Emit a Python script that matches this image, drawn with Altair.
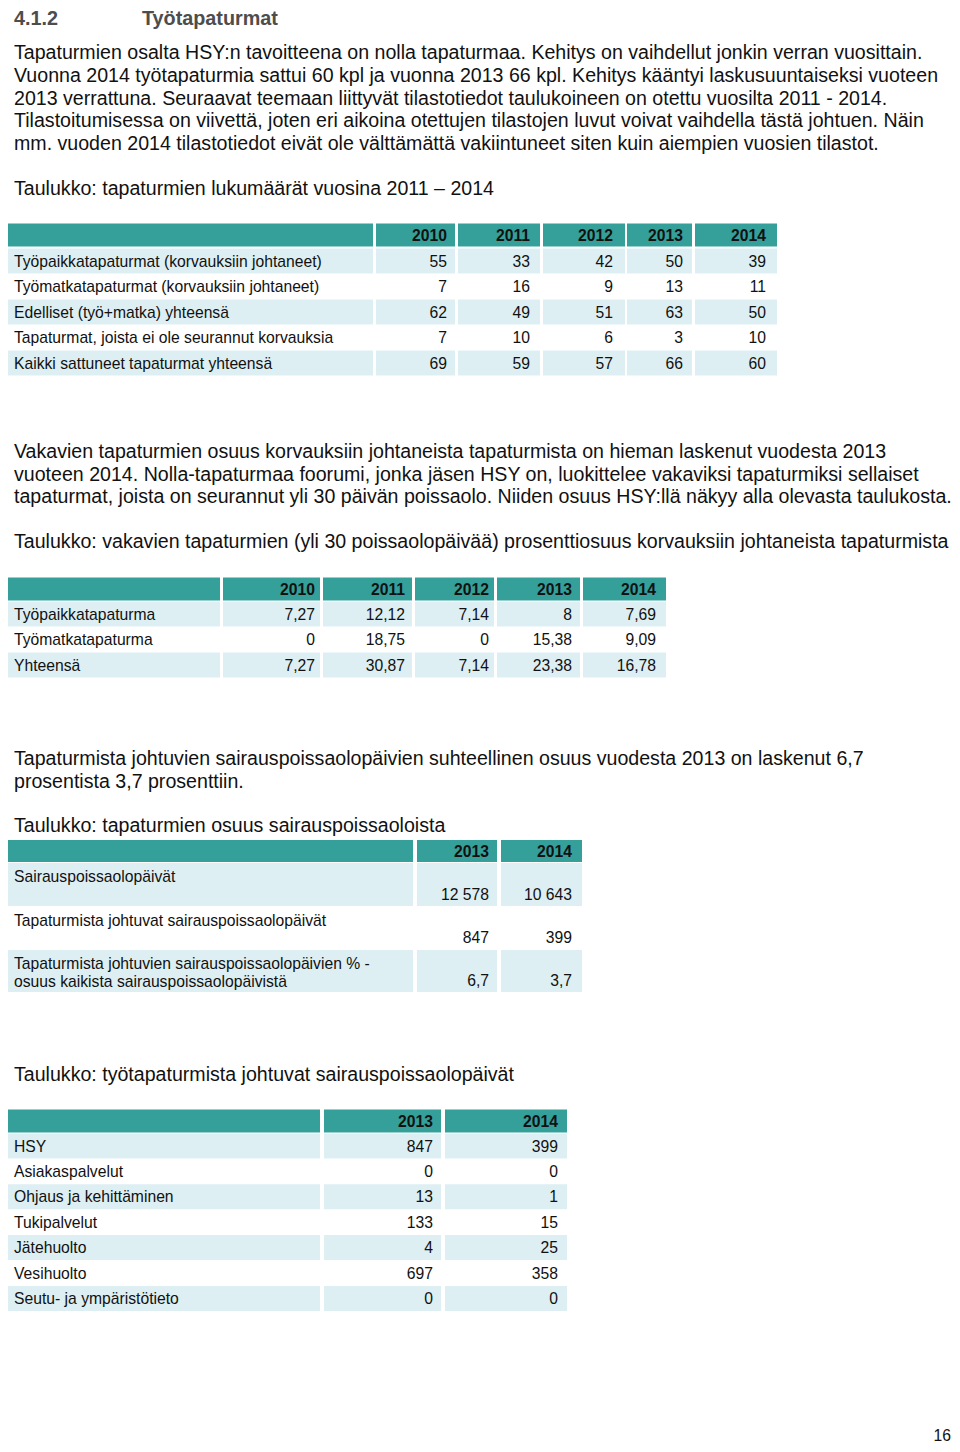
import altair as alt
import pandas as pd

# ---------------- text content ----------------
heading_num = "4.1.2"
heading_txt = "Työtapaturmat"

para1 = [
    "Tapaturmien osalta HSY:n tavoitteena on nolla tapaturmaa. Kehitys on vaihdellut jonkin verran vuosittain.",
    "Vuonna 2014 työtapaturmia sattui 60 kpl ja vuonna 2013 66 kpl. Kehitys kääntyi laskusuuntaiseksi vuoteen",
    "2013 verrattuna. Seuraavat teemaan liittyvät tilastotiedot taulukoineen on otettu vuosilta 2011 - 2014.",
    "Tilastoitumisessa on viivettä, joten eri aikoina otettujen tilastojen luvut voivat vaihdella tästä johtuen. Näin",
    "mm. vuoden 2014 tilastotiedot eivät ole välttämättä vakiintuneet siten kuin aiempien vuosien tilastot.",
]
title1 = "Taulukko: tapaturmien lukumäärät vuosina 2011 – 2014"
para2 = [
    "Vakavien tapaturmien osuus korvauksiin johtaneista tapaturmista on hieman laskenut vuodesta 2013",
    "vuoteen 2014. Nolla-tapaturmaa foorumi, jonka jäsen HSY on, luokittelee vakaviksi tapaturmiksi sellaiset",
    "tapaturmat, joista on seurannut yli 30 päivän poissaolo. Niiden osuus HSY:llä näkyy alla olevasta taulukosta.",
]
title2 = "Taulukko: vakavien tapaturmien (yli 30 poissaolopäivää) prosenttiosuus korvauksiin johtaneista tapaturmista"
para3 = [
    "Tapaturmista johtuvien sairauspoissaolopäivien suhteellinen osuus vuodesta 2013 on laskenut 6,7",
    "prosentista 3,7 prosenttiin.",
]
title3 = "Taulukko: tapaturmien osuus sairauspoissaoloista"
title4 = "Taulukko: työtapaturmista johtuvat sairauspoissaolopäivät"
page_number = "16"

# ---------------- table data ----------------
t1_years = ["2010", "2011", "2012", "2013", "2014"]
t1_labels = [
    "Työpaikkatapaturmat (korvauksiin johtaneet)",
    "Työmatkatapaturmat (korvauksiin johtaneet)",
    "Edelliset (työ+matka) yhteensä",
    "Tapaturmat, joista ei ole seurannut korvauksia",
    "Kaikki sattuneet tapaturmat yhteensä",
]
t1_2010 = [55, 7, 62, 7, 69]
t1_2011 = [33, 16, 49, 10, 59]
t1_2012 = [42, 9, 51, 6, 57]
t1_2013 = [50, 13, 63, 3, 66]
t1_2014 = [39, 11, 50, 10, 60]

t2_years = ["2010", "2011", "2012", "2013", "2014"]
t2_labels = ["Työpaikkatapaturma", "Työmatkatapaturma", "Yhteensä"]
t2_2010 = [7.27, 0, 7.27]
t2_2011 = [12.12, 18.75, 30.87]
t2_2012 = [7.14, 0, 7.14]
t2_2013 = [8, 15.38, 23.38]
t2_2014 = [7.69, 9.09, 16.78]

t3_years = ["2013", "2014"]
t3_labels = [
    ["Sairauspoissaolopäivät"],
    ["Tapaturmista johtuvat sairauspoissaolopäivät"],
    ["Tapaturmista johtuvien sairauspoissaolopäivien % -", "osuus kaikista sairauspoissaolopäivistä"],
]
t3_2013 = [12578, 847, 6.7]
t3_2014 = [10643, 399, 3.7]

t4_years = ["2013", "2014"]
t4_labels = ["HSY", "Asiakaspalvelut", "Ohjaus ja kehittäminen", "Tukipalvelut",
             "Jätehuolto", "Vesihuolto", "Seutu- ja ympäristötieto"]
t4_2013 = [847, 0, 13, 133, 4, 697, 0]
t4_2014 = [399, 0, 1, 15, 25, 358, 0]

# ---------------- styling ----------------
TEAL = "#35a09a"
LIGHT = "#ddeff3"
BLACK = "#111111"
GREY = "#4d4d4d"
BODY = 19.6
HEAD = 19.8
TAB = 15.7
FONT = "Liberation Sans"


def fi(v):
    if isinstance(v, float) and not v.is_integer():
        return str(v).replace(".", ",")
    v = int(v)
    return f"{v:,}".replace(",", " ")


rects, tl, tlb, tr, trb = [], [], [], [], []


def add_lines(lines, y0, step):
    for i, s in enumerate(lines):
        tl.append(dict(x=14, y=y0 + i * step, t=s, c=BLACK, s=BODY))


# heading
tlb.append(dict(x=14, y=18.5, t=heading_num, c=GREY, s=HEAD))
tlb.append(dict(x=142, y=18.5, t=heading_txt, c=GREY, s=HEAD))
add_lines(para1, 53, 22.75)
add_lines([title1], 189, 0)
add_lines(para2, 452, 22.5)
add_lines([title2], 542, 0)
add_lines(para3, 759, 22.5)
add_lines([title3], 826, 0)
add_lines([title4], 1075, 0)
tr.append(dict(x=951, y=1436, t=page_number, c=BLACK, s=TAB))


def simple_table(years, labels, cols, label_x1, cells, text_right, header_y, row_y, row_h, stripe_odd):
    rects.append(dict(x=4, x2=label_x1, y=header_y - 11.5, y2=header_y + 11.5, c=TEAL))
    for (a, b), yr, xr in zip(cells, years, text_right):
        rects.append(dict(x=a, x2=b, y=header_y - 11.5, y2=header_y + 11.5, c=TEAL))
        trb.append(dict(x=xr, y=header_y + 0.5, t=yr, c=BLACK, s=TAB))
    for i, lab in enumerate(labels):
        yc = row_y + i * row_h
        if (i % 2 == 0) == stripe_odd:
            rects.append(dict(x=4, x2=label_x1, y=yc - 12.5, y2=yc + 12.5, c=LIGHT))
            for a, b in cells:
                rects.append(dict(x=a, x2=b, y=yc - 12.5, y2=yc + 12.5, c=LIGHT))
        tl.append(dict(x=14, y=yc + 0.5, t=lab, c=BLACK, s=TAB))
        for col, xr in zip(cols, text_right):
            tr.append(dict(x=xr, y=yc + 0.5, t=fi(col[i]), c=BLACK, s=TAB))


simple_table(t1_years, t1_labels, [t1_2010, t1_2011, t1_2012, t1_2013, t1_2014], 373,
             [(376, 455), (458, 540), (543, 625), (627, 692), (695, 777)],
             [447, 530, 613, 683, 766], 235, 261, 25.5, True)

simple_table(t2_years, t2_labels, [t2_2010, t2_2011, t2_2012, t2_2013, t2_2014], 220,
             [(223, 320), (323, 412), (415, 494), (497, 580), (583, 666)],
             [315, 405, 489, 572, 656], 589, 614, 25.5, True)

simple_table(t4_years, t4_labels, [t4_2013, t4_2014], 320,
             [(324, 441), (445, 567)],
             [433, 558], 1121, 1146, 25.4, True)

# table 3 (tall rows, label at top, value at bottom)
t3_cells = [(417, 497), (501, 582)]
t3_right = [489, 572]
rects.append(dict(x=4, x2=413, y=840, y2=862, c=TEAL))
for (a, b), yr, xr in zip(t3_cells, t3_years, t3_right):
    rects.append(dict(x=a, x2=b, y=840, y2=862, c=TEAL))
    trb.append(dict(x=xr, y=851.5, t=yr, c=BLACK, s=TAB))
t3_tops = [863, 907, 950]
t3_bottoms = [906, 949, 992]
for i, lines in enumerate(t3_labels):
    top, bot = t3_tops[i], t3_bottoms[i]
    if i % 2 == 0:
        rects.append(dict(x=4, x2=413, y=top, y2=bot, c=LIGHT))
        for a, b in t3_cells:
            rects.append(dict(x=a, x2=b, y=top, y2=bot, c=LIGHT))
    for j, s in enumerate(lines):
        tl.append(dict(x=14, y=top + 13.5 + j * 18, t=s, c=BLACK, s=TAB))
    for col, xr in zip([t3_2013, t3_2014], t3_right):
        tr.append(dict(x=xr, y=bot - 11.5, t=fi(col[i]), c=BLACK, s=TAB))

X = alt.Scale(domain=[8, 952], nice=False, zero=False)
Y = alt.Scale(domain=[8, 1444], nice=False, zero=False, reverse=True)


def rect_layer(rows):
    return alt.Chart(pd.DataFrame(rows)).mark_rect().encode(
        x=alt.X("x:Q", scale=X, axis=None),
        x2="x2:Q",
        y=alt.Y("y:Q", scale=Y, axis=None),
        y2="y2:Q",
        color=alt.Color("c:N", scale=None),
    )


def text_layer(rows, align, weight):
    return alt.Chart(pd.DataFrame(rows)).mark_text(
        align=align, baseline="middle", font=FONT, fontWeight=weight
    ).encode(
        x=alt.X("x:Q", scale=X, axis=None),
        y=alt.Y("y:Q", scale=Y, axis=None),
        text="t:N",
        color=alt.Color("c:N", scale=None),
        size=alt.Size("s:Q", scale=None),
    )


chart = alt.layer(
    rect_layer(rects),
    text_layer(tl, "left", "normal"),
    text_layer(tlb, "left", "bold"),
    text_layer(tr, "right", "normal"),
    text_layer(trb, "right", "bold"),
).properties(
    width=944, height=1436, padding=0, autosize=alt.AutoSizeParams(type="none"),
    background="white",
).configure_view(stroke=None)

chart.save("out.html", embed_options={"renderer": "svg", "actions": False})
